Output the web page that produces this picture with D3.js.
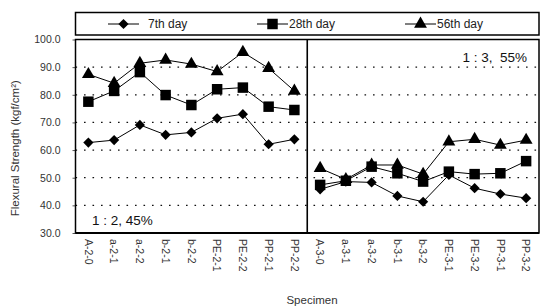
<!DOCTYPE html>
<html>
<head>
<meta charset="utf-8">
<script src="https://cdn.jsdelivr.net/npm/d3@7"></script>
<style>
  body { margin: 0; background: #fff; }
  svg { font-family: "Liberation Sans", Arial, sans-serif; }
</style>
</head>
<body>
<svg width="540" height="307"></svg>
<script>
const width = 540;
const height = 307;

const specimens = [
    "A-2-0", "a-2-1", "a-2-2", "b-2-1", "b-2-2", "PE-2-1", "PE-2-2", "PP-2-1", "PP-2-2",
    "A-3-0", "a-3-1", "a-3-2", "b-3-1", "b-3-2", "PE-3-1", "PE-3-2", "PP-3-1", "PP-3-2",
];
const groups = [specimens.slice(0, 9), specimens.slice(9)];
const day7 = [62.7, 63.6, 69.1, 65.5, 66.4, 71.5, 73.0, 62.1, 63.9,
              45.8, 48.6, 48.3, 43.4, 41.3, 51.0, 46.2, 44.1, 42.6];
const day28 = [77.5, 81.4, 88.2, 79.9, 76.3, 82.0, 82.6, 75.7, 74.5,
               47.4, 48.9, 54.0, 51.6, 48.6, 52.2, 51.3, 51.6, 56.0];
const day56 = [87.4, 84.2, 91.4, 92.6, 91.1, 88.4, 95.4, 89.6, 81.4,
               53.4, 49.4, 54.6, 54.6, 51.3, 63.0, 63.9, 61.8, 63.6];
const seriesNames = ["7th day", "28th day", "56th day"];
const yTicks = [30, 40, 50, 60, 70, 80, 90, 100];
const gridTicks = [40, 50, 60, 70, 80, 90];
const groupLabels = ["1 : 2, 45%", "1 : 3,  55%"];

const margin = { top: 39.5, right: 1, bottom: 74, left: 75.5 };
const svg = d3.select("svg");

const x = d3.scaleBand()
    .domain(specimens)
    .range([margin.left, width - margin.right]);
const y = d3.scaleLinear()
    .domain([30, 100])
    .range([height - margin.bottom, margin.top]);
const cx = (d) => x(d) + x.bandwidth() / 2;

// diamond = square turned 45 degrees
const series = [
    { name: seriesNames[0], values: day7, shape: d3.symbolSquare, size: 52, rot: 45 },
    { name: seriesNames[1], values: day28, shape: d3.symbolSquare, size: 110, rot: 0 },
    { name: seriesNames[2], values: day56, shape: d3.symbolTriangle, size: 72, rot: 0 },
];

// grid lines
svg.append("g")
    .selectAll("line")
    .data(gridTicks)
    .join("line")
    .attr("x1", margin.left)
    .attr("x2", width - margin.right)
    .attr("y1", (d) => y(d))
    .attr("y2", (d) => y(d))
    .attr("stroke", "#111")
    .attr("stroke-width", 1.2)
    .attr("stroke-dasharray", "1.6,6.9");

// y axis labels
svg.append("g")
    .attr("transform", `translate(${margin.left},0)`)
    .call(d3.axisLeft(y).tickValues(yTicks).tickFormat(d3.format(".1f")).tickSize(3).tickPadding(12))
    .call((g) => g.select(".domain").remove())
    .call((g) => g.selectAll(".tick line").attr("stroke", "#555"))
    .call((g) => g.selectAll("text")
        .attr("fill", "#333")
        .style("font-size", "10.5px")
        .style("font-family", "Liberation Sans, Arial, sans-serif"));

// x axis labels
svg.append("g")
    .attr("transform", `translate(0,${height - margin.bottom})`)
    .call(d3.axisBottom(x).tickSize(0).tickPadding(0))
    .call((g) => g.select(".domain").remove())
    .call((g) => g.selectAll("text")
        .attr("transform", "rotate(90)")
        .attr("x", 6)
        .attr("y", 0)
        .attr("dy", "0.35em")
        .attr("text-anchor", "start")
        .attr("fill", "#333")
        .style("font-size", "10.5px")
        .style("font-family", "Liberation Sans, Arial, sans-serif"));

// lines and markers, broken between the two groups
series.forEach((s) => {
    groups.forEach((grp) => {
        const pts = grp.map((c) => [cx(c), y(s.values[specimens.indexOf(c)])]);
        svg.append("path")
            .attr("d", d3.line()(pts))
            .attr("fill", "none")
            .attr("stroke", "#000")
            .attr("stroke-width", 1);
    });
    svg.append("g")
        .selectAll("path")
        .data(specimens)
        .join("path")
        .attr("transform", (d, i) => `translate(${cx(d)},${y(s.values[i])}) rotate(${s.rot})`)
        .attr("d", d3.symbol(s.shape, s.size))
        .attr("fill", "#000");
});

// frame
svg.append("rect")
    .attr("x", margin.left)
    .attr("y", margin.top)
    .attr("width", width - margin.right - margin.left)
    .attr("height", height - margin.bottom - margin.top)
    .attr("fill", "none")
    .attr("stroke", "#000")
    .attr("stroke-width", 1.5);
svg.append("line")
    .attr("x1", margin.left)
    .attr("x2", width - margin.right)
    .attr("y1", y(30))
    .attr("y2", y(30))
    .attr("stroke", "#000")
    .attr("stroke-width", 2.2);
svg.append("line")
    .attr("x1", x("A-3-0"))
    .attr("x2", x("A-3-0"))
    .attr("y1", margin.top)
    .attr("y2", y(30))
    .attr("stroke", "#000")
    .attr("stroke-width", 1.6);

// group annotations
svg.append("text")
    .attr("x", 92)
    .attr("y", 225)
    .attr("fill", "#111")
    .style("font-size", "13.5px")
    .text(groupLabels[0]);
svg.append("text")
    .attr("x", 527)
    .attr("y", 62)
    .attr("text-anchor", "end")
    .attr("fill", "#111")
    .style("font-size", "13.5px")
    .style("white-space", "pre")
    .text(groupLabels[1]);

// axis titles
svg.append("text")
    .attr("transform", `translate(19,${(margin.top + y(30)) / 2 + 12}) rotate(-90)`)
    .attr("text-anchor", "middle")
    .attr("fill", "#333")
    .style("font-size", "11.5px")
    .text("Flexural Strength (kgf/cm²)");
svg.append("text")
    .attr("x", 312)
    .attr("y", 304)
    .attr("text-anchor", "middle")
    .attr("fill", "#333")
    .style("font-size", "11.5px")
    .text("Specimen");

// legend
const legend = svg.append("g");
legend.append("rect")
    .attr("x", margin.left)
    .attr("y", 12.5)
    .attr("width", width - margin.right - margin.left)
    .attr("height", 22.5)
    .attr("fill", "#fff")
    .attr("stroke", "#000")
    .attr("stroke-width", 1.5);
const legendX = [108, 257, 405];
const item = legend.selectAll("g.item")
    .data(series)
    .join("g")
    .attr("class", "item")
    .attr("transform", (d, i) => `translate(${legendX[i]},24)`);
item.append("line")
    .attr("x1", 0)
    .attr("x2", 31)
    .attr("stroke", "#000")
    .attr("stroke-width", 1);
item.append("path")
    .attr("transform", (d) => `translate(15.5,0) rotate(${d.rot})`)
    .attr("d", (d) => d3.symbol(d.shape, d.size)())
    .attr("fill", "#000");
item.append("text")
    .attr("x", (d, i) => (i === 0 ? 40 : 32))
    .attr("dy", "0.35em")
    .attr("fill", "#222")
    .style("font-size", "12px")
    .text((d) => d.name);
</script>
</body>
</html>
